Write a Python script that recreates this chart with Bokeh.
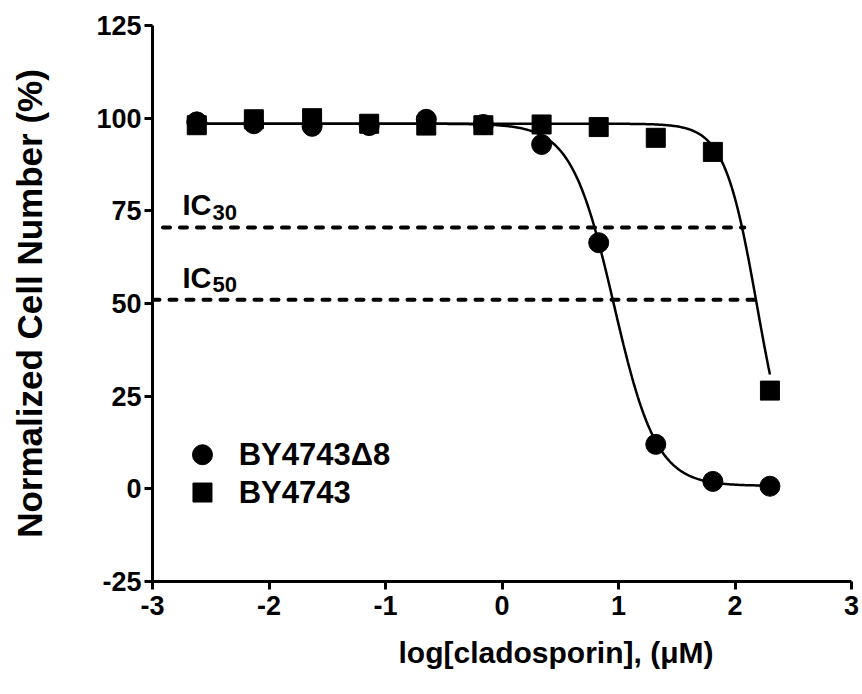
import numpy as np
from bokeh.plotting import figure
from bokeh.models import Range1d, FixedTicker, Label, Title
from bokeh.embed import file_html
from bokeh.resources import INLINE

# ---- data ----
log_conc = [-2.62, -2.13, -1.63, -1.14, -0.65, -0.16, 0.34, 0.83, 1.32, 1.81, 2.30]
by4743_d8 = [99.0, 98.5, 97.8, 98.0, 99.7, 98.3, 92.9, 66.4, 12.0, 2.0, 0.7]
by4743 = [98.1, 99.7, 100.0, 98.5, 98.0, 98.1, 98.3, 97.6, 94.7, 90.9, 26.5]
series_labels = ["BY4743\u03948", "BY4743"]
# four-parameter logistic fits: top, bottom, logIC50, hill slope
fit_d8 = [98.5, 0.8, 0.961, 2.38]
fit_wt = [98.5, 0.0, 2.19, 3.1]
ic_names = ["30", "50"]
ic_levels = [70.5, 51.0]
ic_x_start = [-2.91, -3.0]
ic_x_end = [2.08, 2.225]
x_ticks = [-3, -2, -1, 0, 1, 2, 3]
y_ticks = [-25, 0, 25, 50, 75, 100, 125]
x_title = "log[cladosporin], (\u03bcM)"
y_title = "Normalized Cell Number (%)"

FONT = "Liberation Sans"


def four_pl(x, params):
    top, bottom, c, h = params
    return bottom + (top - bottom) / (1.0 + 10.0 ** (h * (x - c)))


p = figure(width=861, height=693, x_range=Range1d(-3, 3), y_range=Range1d(-25, 125),
           output_backend="svg", toolbar_location=None,
           min_border_left=152, min_border_right=10, min_border_top=25, min_border_bottom=112)
p.background_fill_color = "white"
p.border_fill_color = "white"
p.outline_line_color = None
p.xgrid.visible = False
p.ygrid.visible = False

for ax in (p.xaxis[0], p.yaxis[0]):
    ax.axis_line_width = 3
    ax.axis_line_color = "black"
    ax.major_tick_line_width = 3
    ax.major_tick_line_color = "black"
    ax.major_tick_out = 8
    ax.major_tick_in = 0
    ax.minor_tick_out = 0
    ax.minor_tick_in = 0
    ax.major_label_text_font = FONT
    ax.major_label_text_font_style = "bold"
    ax.major_label_text_font_size = "27px"
    ax.major_label_text_color = "black"
    ax.axis_label_text_font = FONT
    ax.axis_label_text_font_style = "bold"
    ax.axis_label_text_color = "black"

p.xaxis.ticker = FixedTicker(ticks=x_ticks)
p.yaxis.ticker = FixedTicker(ticks=y_ticks)
p.xaxis.major_label_overrides = {t: str(t) for t in x_ticks}
p.yaxis.major_label_overrides = {t: str(t) for t in y_ticks}
p.xaxis.major_label_standoff = 6
p.yaxis.major_label_standoff = 3
p.yaxis.axis_label = y_title
p.yaxis.axis_label_text_font_size = "35px"
p.yaxis.axis_label_standoff = 44

# x-axis title (placed right of centre, as in the reference)
p.add_layout(Title(text=x_title, align="left", offset=246, standoff=32,
                   text_font=FONT, text_font_style="bold", text_font_size="30px",
                   text_color="black"), "below")

# IC reference lines
for name, lvl, x0, x1 in zip(ic_names, ic_levels, ic_x_start, ic_x_end):
    p.line([x0, x1], [lvl, lvl], line_color="black", line_width=4,
           line_dash="7 10", line_cap="round")
    p.add_layout(Label(x=-2.742, y=lvl + 6.0, text="IC", text_font=FONT,
                       text_font_style="bold", text_font_size="29px",
                       text_color="black", text_baseline="alphabetic"))
    p.add_layout(Label(x=-2.742, y=lvl + 6.0, x_offset=30, y_offset=-7, text=name,
                       text_font=FONT, text_font_style="bold", text_font_size="22px",
                       text_color="black", text_baseline="alphabetic"))

# fitted curves
xs = np.linspace(log_conc[0], log_conc[-1], 400)
p.line(xs, four_pl(xs, fit_d8), line_color="black", line_width=2.5)
p.line(xs, four_pl(xs, fit_wt), line_color="black", line_width=2.5)

# data points
p.scatter(log_conc, by4743_d8, marker="circle", size=20, fill_color="black", line_color="black")
p.scatter(log_conc, by4743, marker="square", size=19, fill_color="black", line_color="black")

# legend (manual)
leg_y = [9.2, -1.0]
p.scatter([-2.571], [leg_y[0]], marker="circle", size=20, fill_color="black", line_color="black")
p.scatter([-2.571], [leg_y[1]], marker="square", size=19, fill_color="black", line_color="black")
for lbl, yy in zip(series_labels, leg_y):
    p.add_layout(Label(x=-2.26, y=yy, text=lbl, text_font=FONT, text_font_style="bold",
                       text_font_size="31px", text_color="black", text_baseline="middle"))

open("out.html", "w").write(file_html(p, INLINE))
